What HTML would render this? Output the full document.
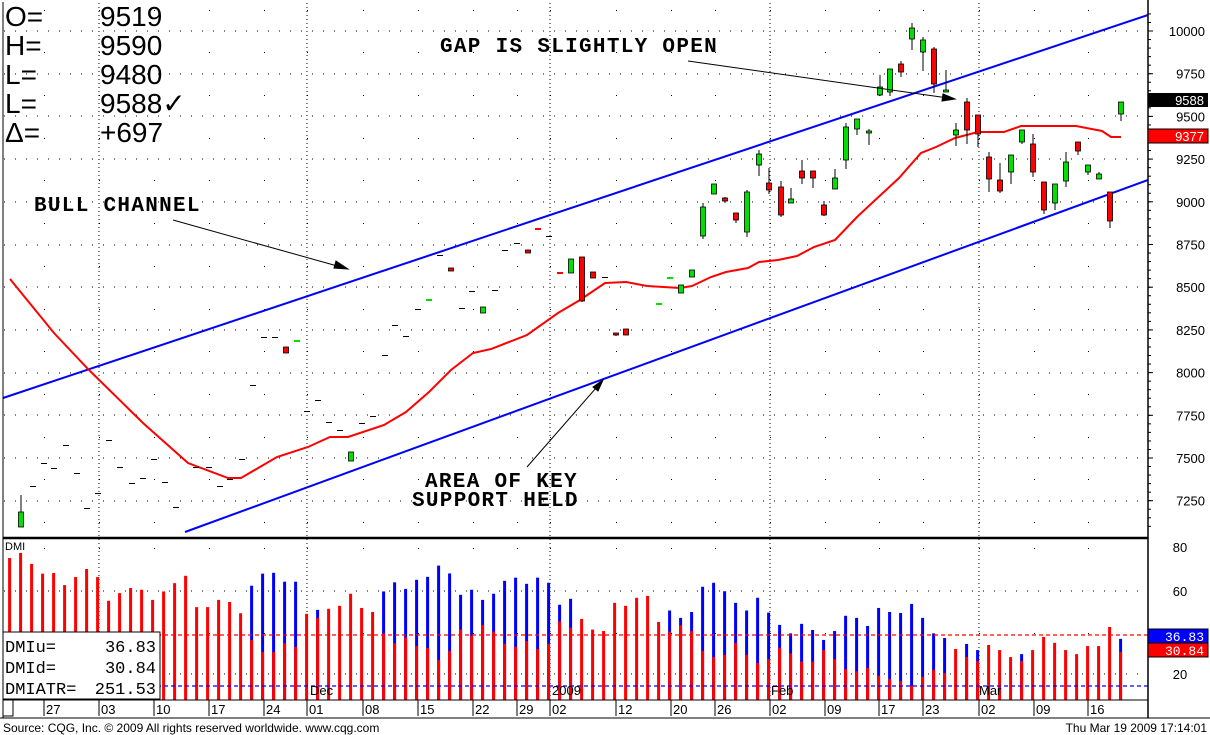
<!DOCTYPE html>
<html><head><meta charset="utf-8"><style>
html,body{margin:0;padding:0;background:#fff;}
svg{display:block;font-family:"Liberation Sans",sans-serif;}
.ann{font-family:"Liberation Mono",monospace;font-size:21px;letter-spacing:1.3px;fill:#000;font-weight:bold;}
.ohlc{font-family:"Liberation Sans",sans-serif;font-size:28px;fill:#000;}
.ax{font-size:13px;fill:#000;}
.dt{font-size:13px;fill:#000;}
.leg{font-family:"Liberation Mono",monospace;font-size:17px;fill:#000;}
</style></head><body>
<svg id="s" width="1210" height="735" viewBox="0 0 1210 735" xmlns="http://www.w3.org/2000/svg">
<rect x="0" y="0" width="1210" height="735" fill="#fff"/>
<g id="grid"></g>
<line x1="3" y1="398" x2="1148" y2="15" stroke="#0000ff" stroke-width="2"/>
<line x1="185" y1="532" x2="1148" y2="180" stroke="#0000ff" stroke-width="2"/>
<polyline id="ma" fill="none" stroke="#ff0000" stroke-width="2"/>
<g id="candles"></g>
<g id="dmi"></g>
<line x1="3" y1="635" x2="1148" y2="635" stroke="#ff0000" stroke-width="1.3" stroke-dasharray="4,3"/>
<line x1="3" y1="686" x2="1148" y2="686" stroke="#0000ff" stroke-width="1.3" stroke-dasharray="4,3"/>
<g stroke="#000" stroke-width="1" fill="#000">
<line x1="173" y1="220" x2="348" y2="269"/><polygon points="348,269 336,261 334,268"/>
<line x1="688" y1="61" x2="955" y2="99"/><polygon points="955,99 943,94 942,101"/>
<line x1="527" y1="467" x2="603" y2="380"/><polygon points="603,380 593,387 598,391"/>
</g>
<text class="ann" x="440" y="52">GAP IS SLIGHTLY OPEN</text>
<text class="ann" x="34" y="211">BULL CHANNEL</text>
<text class="ann" x="425" y="487">AREA OF KEY</text>
<text class="ann" x="412" y="506">SUPPORT HELD</text>
<text class="ohlc" x="5" y="26">O=</text><text class="ohlc" x="100" y="26">9519</text>
<text class="ohlc" x="5" y="55">H=</text><text class="ohlc" x="100" y="55">9590</text>
<text class="ohlc" x="5" y="84">L=</text><text class="ohlc" x="100" y="84">9480</text>
<text class="ohlc" x="5" y="113">L=</text><text class="ohlc" x="100" y="113">9588✓</text>
<text class="ohlc" x="5" y="142">Δ=</text><text class="ohlc" x="100" y="142">+697</text>
<g stroke="#000" fill="none">
<line x1="3" y1="2" x2="3" y2="718" stroke-width="1"/>
<line x1="1148" y1="0" x2="1148" y2="718" stroke-width="1.5"/>
<line x1="3" y1="538" x2="1148" y2="538" stroke-width="2.5"/>
<line x1="3" y1="700" x2="1148" y2="700" stroke-width="1"/>
<line x1="0" y1="718" x2="1210" y2="718" stroke-width="1"/>
</g>
<g id="axis"></g>
<text x="5" y="550" font-size="11" fill="#000">DMI</text>
<rect x="3" y="632" width="157" height="67" fill="#fff" stroke="#000"/>
<text class="leg" x="5" y="652">DMIu=</text><text class="leg" x="156" y="652" text-anchor="end">36.83</text>
<text class="leg" x="5" y="673">DMId=</text><text class="leg" x="156" y="673" text-anchor="end">30.84</text>
<text class="leg" x="5" y="694">DMIATR=</text><text class="leg" x="156" y="694" text-anchor="end">251.53</text>
<text class="dt" x="310" y="695">Dec</text>
<text class="dt" x="552" y="695">2009</text>
<text class="dt" x="771" y="695">Feb</text>
<text class="dt" x="979" y="695">Mar</text>
<rect x="1148" y="93" width="60" height="14" fill="#000"/><text x="1204" y="105" font-size="13" fill="#fff" text-anchor="end">9588</text>
<rect x="1148" y="129" width="60" height="14" fill="#ff0000" stroke="#000"/><text x="1204" y="141" font-size="13" fill="#fff" text-anchor="end">9377</text>
<rect x="1148" y="629" width="60" height="14" fill="#0000ff" stroke="#000"/><text x="1204" y="641" font-size="13" fill="#fff" text-anchor="end" font-family="Liberation Mono">36.83</text>
<rect x="1148" y="643" width="60" height="14" fill="#ff0000" stroke="#000"/><text x="1204" y="655" font-size="13" fill="#fff" text-anchor="end" font-family="Liberation Mono">30.84</text>
<rect x="3" y="700" width="10" height="16" fill="#fff" stroke="#000"/>
<text x="3" y="732" font-size="12" fill="#000">Source: CQG, Inc. © 2009 All rights reserved worldwide. www.cqg.com</text>
<text x="1207" y="732" font-size="12" fill="#000" text-anchor="end">Thu Mar 19 2009 17:14:01</text>
</svg>
<script>
var NS="http://www.w3.org/2000/svg";
function el(p,t,a){var e=document.createElementNS(NS,t);for(var k in a)e.setAttribute(k,a[k]);document.getElementById(p).appendChild(e);return e;}
function py(p){return 31+(10000-p)*0.1708;}
var ticks=[44,99,154,209,264,307,363,418,473,517,550,616,671,715,770,825,879,923,979,1034,1088];
var months=[99,307,550,770,979];
for(var p=10125;p>=7125;p-=125){var y=Math.round(py(p));if(y<4||y>536)continue;
 if(p%250==0){el("grid","line",{x1:4,y1:y,x2:1147,y2:y,stroke:"#000","stroke-dasharray":"1,10"});}
 else{ticks.forEach(function(x){el("grid","rect",{x:x,y:y,width:1,height:1,fill:"#000"});});}
}
[548,591,633,674].forEach(function(y,i){
 if(i%2==0)ticks.forEach(function(x){el("grid","rect",{x:x,y:y,width:1,height:1,fill:"#000"});});
 else el("grid","line",{x1:4,y1:y,x2:1147,y2:y,stroke:"#000","stroke-dasharray":"1,10"});
});
months.forEach(function(x){el("grid","line",{x1:x,y1:3,x2:x,y2:700,stroke:"#000","stroke-dasharray":"1,3"});});
for(var p=10000;p>=7250;p-=250){var y=py(p);var t=el("axis","text",{x:1205,y:y+5,"class":"ax","text-anchor":"end"});t.textContent=p;
 el("axis","line",{x1:1148,y1:y,x2:1153,y2:y,stroke:"#000"});}
for(var p=10100;p>=7100;p-=50){var y=py(p);if(y>4&&y<536)el("axis","line",{x1:1148,y1:y,x2:1151,y2:y,stroke:"#000"});}
[[80,547],[60,591],[20,674]].forEach(function(l){var t=el("axis","text",{x:1180,y:l[1]+5,"class":"ax","text-anchor":"middle"});t.textContent=l[0];});
var dl=["27","03","10","17","24","01","08","15","22","29","02","12","20","26","02","09","17","23","02","09","16"];
ticks.forEach(function(x,i){el("axis","line",{x1:x,y1:700,x2:x,y2:716,stroke:"#000"});var t=el("axis","text",{x:x+2,y:714,"class":"dt"});t.textContent=dl[i];});
var ma=[[10,279],[54,333],[89,370],[143,423],[188,463],[228,478],[241,478],[277,457],[308,447],[330,437],[348,437],[384,425],[406,412],[429,392],[451,370],[473,353],[491,349],[527,335],[558,313],[580,300],[605,283],[626,282],[647,286],[680,288],[692,286],[711,277],[726,272],[748,268],[759,262],[778,260],[797,256],[814,247],[835,240],[857,217],[872,203],[899,178],[921,153],[936,147],[955,138],[978,132],[1004,132],[1021,126],[1057,126],[1076,126],[1102,131],[1111,137],[1121,137]];
document.getElementById("ma").setAttribute("points",ma.map(function(p){return p.join(",")}).join(" "));
var dash=[[33,486],[44,463],[54,468],[66,445],[77,473],[87,508],[98,493],[109,440],[120,467],[132,483],[143,478],[154,459],[165,482],[176,507],[196,467],[209,467],[220,486],[230,479],[242,459],[253,385],[264,337],[275,337],[307,411],[318,400],[329,422],[340,430],[362,423],[373,416],[385,355],[395,325],[406,336],[418,309],[440,255],[462,308],[472,291],[495,290],[505,250],[517,243],[549,236],[605,277]];
dash.forEach(function(d){el("candles","rect",{x:d[0]-3,y:d[1],width:6,height:1,fill:"#000"});});
[[297,340,"#00e000"],[429,299,"#00e000"],[538,228,"#ff0000"],[560,272,"#ff0000"],[659,303,"#00e000"],[670,277,"#00e000"]].forEach(function(d){el("candles","rect",{x:d[0]-3,y:d[1],width:6,height:2,fill:d[2]});});
var C=[[21,512,527,"g",495,527],[286,347,353,"r",347,353],[351,452,461,"g",452,461],[451,268,271,"r",268,271],[483,307,313,"g",307,313],[528,250,253,"r",250,253],[571,259,273,"g",259,273],[582,257,301,"r",257,302],[593,272,278,"r",272,278],[616,333,335,"r",333,336],[626,329,335,"r",329,335],[681,285,293,"g",285,293],[692,270,277,"g",270,277],
[703,207,236,"g",203,239],[714,184,194,"g",184,194],[725,198,201,"r",197,203],[736,213,220,"r",213,223],[747,192,232,"g",190,237],[759,154,165,"g",150,176],[769,183,190,"r",168,194],[781,187,215,"r",181,217],[791,199,203,"g",188,203],[802,171,178,"r",160,184],[813,171,178,"r",171,188],[824,205,215,"r",201,216],[835,178,189,"g",169,189],[846,127,160,"g",123,169],[857,119,129,"g",119,135],[869,131,133,"g",129,145],[880,87,95,"g",75,96],[890,69,92,"g",69,96],[901,64,72,"r",61,77],[912,28,39,"g",23,50],[923,40,52,"g",37,71],[934,49,84,"r",47,93],[946,90,92,"g",70,92],[956,130,135,"g",123,146],[967,102,130,"r",98,144],[978,115,134,"r",115,147],[989,157,179,"r",152,192],[1000,180,191,"r",163,193],[1011,155,172,"g",155,184],[1022,130,142,"g",130,144],[1033,144,172,"r",134,177],[1044,182,210,"r",182,214],[1055,184,203,"g",184,210],[1066,162,181,"g",152,187],[1078,142,151,"r",142,155],[1088,165,172,"g",165,175],[1099,174,179,"g",172,179],[1110,192,221,"r",192,228],[1121,102,114,"g",102,121]];
C.forEach(function(c){el("candles","line",{x1:c[0],y1:c[4],x2:c[0],y2:c[5],stroke:"#000"});
 el("candles","rect",{x:c[0]-2.5,y:c[1],width:5,height:Math.max(c[2]-c[1],2),fill:c[3]=="g"?"#00e000":"#ff0000",stroke:"#000","stroke-width":0.8});});
var D=[[0,74.8],[0,77.2],[0,72],[0,67.4],[0,67.7],[0,62],[0,65.8],[0,69.6],[0,65.8],[0,54.6],[0,58.2],[0,60.6],[0,59.8],[0,55],[0,59],[0,62.9],[0,66.4],[0,51.6],[0,51.6],[0,55],[0,54],[0,48.7],
[61.7,36],[67.4,30.4],[67.8,30.4],[63.6,34.5],[63.6,32.8],[0,48.4],[50.3,46.5],[0,50.8],[0,52.2],[0,57.9],[0,51.2],[0,49.3],[59,39.2],[63.3,34.5],[60.2,37.3],[64.5,33.2],[65.9,32.3],[71.2,26.6],[67.5,30.9],[57.4,41],[59.8,38.1],[55,43.2],[57.9,40],[64,34.3],[65.5,32.8],[62.6,35.6],[65.5,31.8],[63.1,34.3],[52.7,44.8],[55.5,41.9],[0,46],[0,41],
[0,40.3],[0,53.6],[0,52.2],[0,56],[0,56.9],[0,44.6],[50,40],[46.5,43],[49.3,40.3],[61.2,30.9],[63.1,28],[59.1,29],[53.6,34.7],[50,29],[56,25.2],[49,27],[43.2,32.4],[39.2,29.7],[43.7,25.8],[40.8,25.8],[36.1,31.3],[40.3,27],[47.5,22.3],[46.5,21.3],[42.7,22.9],[51.2,19.2],[49.3,17.6],[48.8,16.6],[53.1,14.4],[46.5,18.6],[39.2,22],[37,20.4],[0,31.8],[34.2,28],[31.3,26.1],[0,33.7],[0,31.3],[0,28],[29.4,26.1],[0,31.3],[0,37.5],[0,34.7],[0,31.3],[0,29.4],[0,33.2],[0,33.2],[0,42.2],[36.6,30.4]];
function dy(v){return 674-(v-20)*2.117;}
D.forEach(function(d,i){var x=9.6+i*11.0;
 if(d[0]>0)el("dmi","rect",{x:x-1.5,y:dy(d[0]),width:3,height:700-dy(d[0]),fill:"#0000ff"});
 el("dmi","rect",{x:x-1.5,y:dy(d[1]),width:3,height:700-dy(d[1]),fill:"#ff0000"});});
</script>
</body></html>
